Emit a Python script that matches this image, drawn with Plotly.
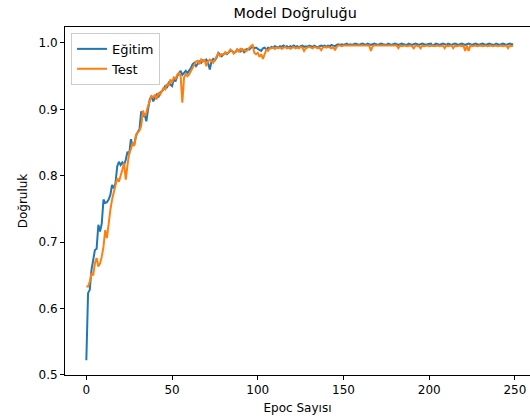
import plotly.graph_objects as go

epochs = list(range(250))

train_acc = [
    0.522, 0.623, 0.628, 0.658, 0.673, 0.688, 0.690, 0.726, 0.716, 0.728,
    0.764, 0.759, 0.760, 0.764, 0.771, 0.786, 0.781, 0.789, 0.814, 0.821,
    0.816, 0.820, 0.816, 0.824, 0.836, 0.832, 0.855, 0.845, 0.848, 0.860,
    0.866, 0.870, 0.897, 0.890, 0.892, 0.882, 0.900, 0.915, 0.920, 0.912,
    0.917, 0.922, 0.918, 0.925, 0.927, 0.930, 0.935, 0.932, 0.940, 0.938,
    0.935, 0.945, 0.942, 0.950, 0.955, 0.958, 0.952, 0.956, 0.958, 0.955,
    0.958, 0.962, 0.968, 0.970, 0.965, 0.968, 0.972, 0.970, 0.974, 0.973,
    0.975, 0.970, 0.960, 0.972, 0.976, 0.974, 0.978, 0.985, 0.982, 0.980,
    0.983, 0.985, 0.983, 0.986, 0.988, 0.988, 0.985, 0.986, 0.990, 0.988,
    0.987, 0.990, 0.986, 0.990, 0.991, 0.990, 0.993, 0.995, 0.992, 0.993,
    0.991, 0.990, 0.988, 0.992, 0.993, 0.990, 0.993, 0.992, 0.994, 0.993,
    0.995, 0.994, 0.993, 0.995, 0.994, 0.996, 0.994, 0.995, 0.993, 0.995,
    0.994, 0.996, 0.994, 0.995, 0.993, 0.995, 0.996, 0.994, 0.995, 0.994,
    0.996, 0.995, 0.994, 0.996, 0.995, 0.993, 0.995, 0.996, 0.995, 0.996,
    0.994, 0.996, 0.995, 0.997, 0.996, 0.995, 0.997, 0.998, 0.997, 0.998,
    0.997, 0.998, 0.999, 0.997, 0.998, 0.997, 0.998, 0.999, 0.998, 0.997,
    0.998, 0.999, 0.998, 0.997, 0.999, 0.998, 0.997, 0.998, 0.999, 0.998,
    0.997, 0.998, 0.999, 0.998, 0.998, 0.997, 0.999, 0.998, 0.997, 0.998,
    0.999, 0.998, 0.997, 0.998, 0.999, 0.998, 0.998, 0.997, 0.999, 0.998,
    0.997, 0.998, 0.999, 0.998, 0.997, 0.998, 0.999, 0.998, 0.997, 0.998,
    0.998, 0.999, 0.996, 0.998, 0.999, 0.998, 0.997, 0.998, 0.999, 0.998,
    0.997, 0.999, 0.998, 0.997, 0.998, 0.999, 0.998, 0.997, 0.998, 0.999,
    0.998, 0.997, 0.998, 0.999, 0.998, 0.997, 0.998, 0.999, 0.998, 0.997,
    0.998, 0.999, 0.998, 0.997, 0.998, 0.999, 0.998, 0.998, 0.997, 0.999,
    0.998, 0.997, 0.998, 0.999, 0.998, 0.997, 0.998, 0.999, 0.998, 0.998,
]

test_acc = [
    0.633, 0.633, 0.640, 0.653, 0.650, 0.668, 0.676, 0.663, 0.668, 0.678,
    0.693, 0.718, 0.706, 0.731, 0.748, 0.764, 0.776, 0.784, 0.796, 0.791,
    0.799, 0.809, 0.819, 0.794, 0.816, 0.834, 0.840, 0.850, 0.845, 0.862,
    0.865, 0.868, 0.875, 0.898, 0.890, 0.895, 0.905, 0.912, 0.920, 0.918,
    0.922, 0.915, 0.925, 0.922, 0.928, 0.932, 0.930, 0.938, 0.935, 0.945,
    0.940, 0.948, 0.946, 0.952, 0.955, 0.950, 0.910, 0.948, 0.953, 0.950,
    0.953, 0.958, 0.962, 0.968, 0.972, 0.973, 0.968, 0.975, 0.972, 0.974,
    0.965, 0.972, 0.975, 0.973, 0.970, 0.975, 0.980, 0.984, 0.980, 0.983,
    0.982, 0.986, 0.984, 0.986, 0.990, 0.988, 0.984, 0.988, 0.990, 0.986,
    0.992, 0.988, 0.990, 0.987, 0.990, 0.992, 0.995, 0.997, 0.985, 0.983,
    0.985, 0.979, 0.983, 0.976, 0.985, 0.990, 0.988, 0.992, 0.992, 0.993,
    0.991, 0.993, 0.992, 0.993, 0.991, 0.993, 0.994, 0.992, 0.993, 0.991,
    0.993, 0.994, 0.992, 0.993, 0.992, 0.994, 0.993, 0.988, 0.992, 0.993,
    0.994, 0.993, 0.992, 0.994, 0.993, 0.992, 0.993, 0.989, 0.993, 0.994,
    0.993, 0.994, 0.993, 0.992, 0.994, 0.989, 0.994, 0.996, 0.996, 0.995,
    0.996, 0.996, 0.995, 0.996, 0.996, 0.995, 0.996, 0.996, 0.995, 0.996,
    0.996, 0.995, 0.996, 0.996, 0.995, 0.996, 0.988, 0.995, 0.996, 0.996,
    0.995, 0.996, 0.996, 0.995, 0.996, 0.996, 0.995, 0.996, 0.996, 0.995,
    0.996, 0.996, 0.992, 0.996, 0.995, 0.996, 0.996, 0.995, 0.996, 0.996,
    0.995, 0.992, 0.996, 0.996, 0.995, 0.992, 0.996, 0.995, 0.996, 0.996,
    0.995, 0.996, 0.996, 0.995, 0.996, 0.996, 0.995, 0.996, 0.996, 0.992,
    0.996, 0.995, 0.996, 0.996, 0.992, 0.996, 0.995, 0.996, 0.996, 0.995,
    0.996, 0.988, 0.996, 0.988, 0.996, 0.995, 0.996, 0.996, 0.995, 0.996,
    0.996, 0.995, 0.996, 0.996, 0.995, 0.996, 0.996, 0.995, 0.996, 0.996,
    0.995, 0.996, 0.996, 0.995, 0.996, 0.996, 0.992, 0.996, 0.995, 0.996,
]

series_names = ["Eğitim", "Test"]
colors = ["#1f77b4", "#ff7f0e"]

x_ticks = [0, 50, 100, 150, 200, 250]
y_ticks = [0.5, 0.6, 0.7, 0.8, 0.9, 1.0]

FONT = "DejaVu Sans"

fig = go.Figure()
for name, ys, c in zip(series_names, [train_acc, test_acc], colors):
    fig.add_trace(go.Scatter(x=epochs, y=ys, mode="lines", name=name,
                             line=dict(color=c, width=2)))

fig.update_layout(
    width=530, height=420,
    margin=dict(l=65, r=0, t=27, b=45),
    paper_bgcolor="white", plot_bgcolor="white",
    font=dict(family=FONT, size=12, color="black"),
    title=dict(text="Model Doğruluğu", font=dict(size=14.4, color="black"),
               xref="paper", x=0.495, xanchor="center",
               yref="container", y=0.969, yanchor="middle"),
    legend=dict(x=0.013, y=0.983, xanchor="left", yanchor="top",
                bgcolor="rgba(255,255,255,0.8)", bordercolor="#cccccc",
                borderwidth=1, font=dict(size=13), tracegroupgap=0,
                itemwidth=30),
    showlegend=True,
)
fig.update_xaxes(range=[-12.45, 258.8], tickvals=x_ticks,
                 ticks="outside", ticklen=4, tickcolor="black", tickwidth=1,
                 showgrid=False, zeroline=False, showline=True, linecolor="black",
                 linewidth=1, mirror=True,
                 title=dict(text="Epoc Sayısı", font=dict(size=12), standoff=7))
fig.update_yaxes(range=[0.4997, 1.024], tickvals=y_ticks,
                 ticktext=[f"{v:.1f}" for v in y_ticks],
                 ticks="outside", ticklen=4, tickcolor="black", tickwidth=1,
                 showgrid=False, zeroline=False, showline=True, linecolor="black",
                 linewidth=1, mirror=False,
                 title=dict(text="Doğruluk", font=dict(size=12), standoff=8))

fig.write_html("out.html")
